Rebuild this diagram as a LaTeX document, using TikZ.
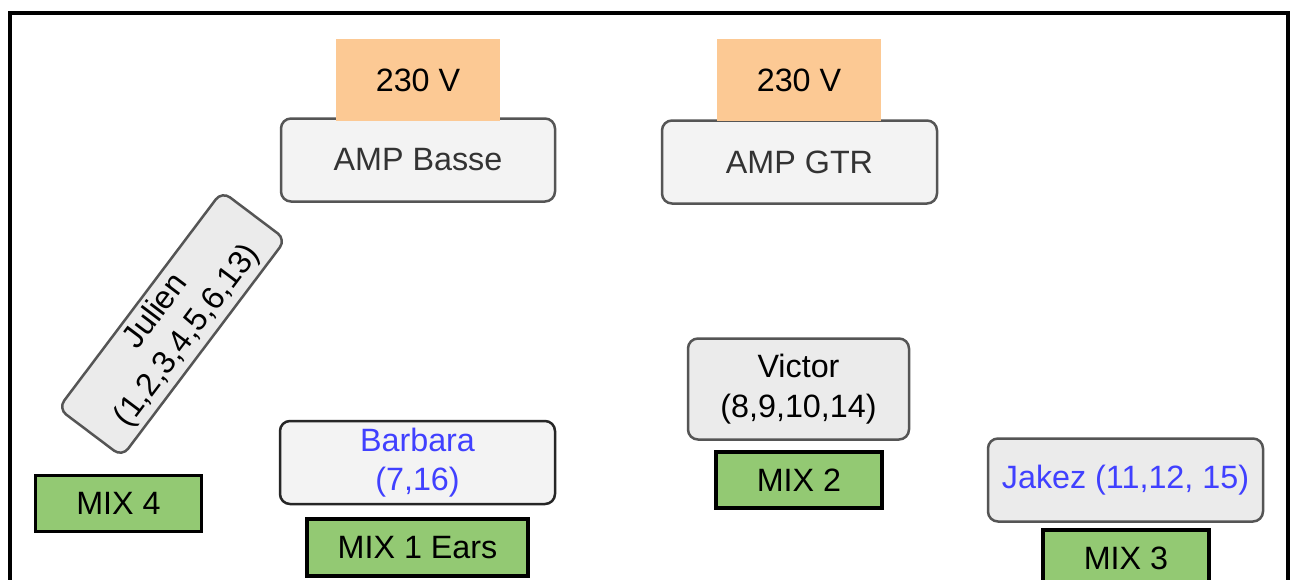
\documentclass[tikz,border=0pt]{standalone}
\usepackage{fontspec}
\setmainfont{Liberation Sans}
\definecolor{peach}{HTML}{FCC994}
\definecolor{mixgreen}{HTML}{93C973}
\definecolor{boxfill}{HTML}{F3F3F3}
\definecolor{boxfilldark}{HTML}{EBEBEB}
\definecolor{boxline}{HTML}{555555}
\definecolor{blueText}{HTML}{4040FF}
\begin{document}
\begin{tikzpicture}[x=1pt,y=-1pt,
  every node/.style={font=\fontsize{32.3}{39.5}\selectfont, inner sep=0pt, align=center},
  pwr/.style={fill=peach, minimum width=164, minimum height=82},
  amp/.style={draw=boxline, fill=boxfill, line width=2.5, rounded corners=10, text=black!80},
  person/.style={draw=boxline, fill=boxfilldark, line width=2.5, rounded corners=10},
  mixbox/.style={draw=black, fill=mixgreen, line width=3.2, minimum width=166, minimum height=56}
]
\useasboundingbox (0,0) rectangle (1290,579);
\clip (0,0) rectangle (1290,579);
\fill[white] (0,0) rectangle (1290,579);
% frame
\draw[line width=4] (9.5,12.5) rectangle (1287.5,640);
% amps and power
\node[amp, minimum width=274, minimum height=83] (ampb) at (418,160) {AMP Basse};
\node[pwr] (v1) at (418,80) {230 V};
\node[amp, minimum width=275, minimum height=83] (ampg) at (799.5,162) {AMP GTR};
\node[pwr] (v2) at (799,80) {230 V};
% musicians
\node[person, rotate=53, minimum width=272, minimum height=80] (julien) at (172,324) {Julien\\(1,2,3,4,5,6,13)};
\node[person, draw=black!85, fill=boxfill, minimum width=275, minimum height=83, text=blueText] (barb) at (417.5,462.5) {Barbara\\(7,16)};
\node[person, minimum width=221, minimum height=101] (victor) at (798.5,389) {Victor\\(8,9,10,14)};
\node[person, minimum width=275, minimum height=83, text=blueText] (jakez) at (1125.5,480) {Jakez (11,12, 15)};
% mixes
\node[mixbox] (mix4) at (118.5,503.5) {MIX 4};
\node[mixbox, minimum width=221, minimum height=57] (mix1) at (417.5,547.5) {MIX 1 Ears};
\node[mixbox] (mix2) at (799,480) {MIX 2};
\node[mixbox] (mix3) at (1126,558) {MIX 3};
\end{tikzpicture}
\end{document}
